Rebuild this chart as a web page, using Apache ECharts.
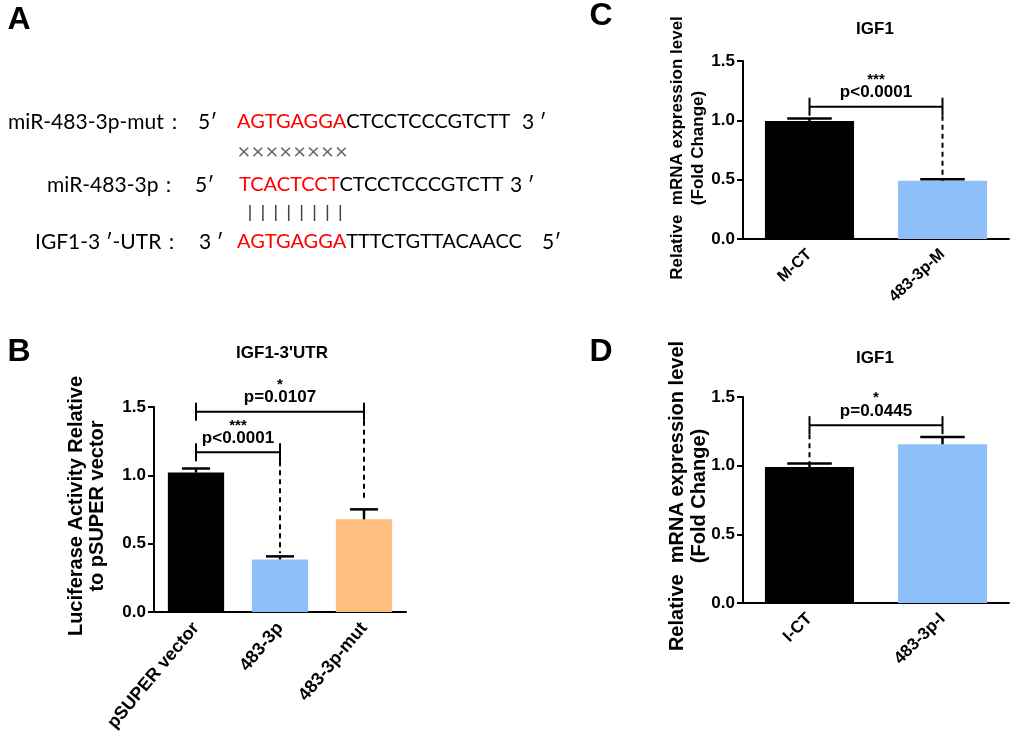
<!DOCTYPE html>
<html>
<head>
<meta charset="utf-8">
<script src="https://cdn.jsdelivr.net/npm/echarts@6/dist/echarts.min.js"></script>
<style>
  html, body { margin: 0; padding: 0; background: #fff; }
  #chart { width: 1020px; height: 746px; }
</style>
</head>
<body>
<div id="chart"></div>
<script>
// panel B
var bCats = ['pSUPER vector', '483-3p', '483-3p-mut']
var bMeans = [1.02, 0.385, 0.678]
var bErrs = [0.03, 0.022, 0.073]
var bColors = ['#000000', '#8fbff8', '#fdbf80']
var bPairs = [[0, 1], [0, 2]]
var bLevels = [1.168, 1.465]
var bFeet = [[null, 0.43], [null, 0.82]]
var bStars = ['***', '*']
var bPText = ['p<0.0001', 'p=0.0107']

// panel C
var cCats = ['M-CT', '483-3p-M']
var cMeans = [0.995, 0.49]
var cErrs = [0.02, 0.013]
var cColors = ['#000000', '#8fbff8']
var cPairs = [[0, 1]]
var cLevels = [1.115]
var cFeet = [[null, 0.515]]
var cStars = ['***']
var cPText = ['p<0.0001']

// panel D
var dCats = ['I-CT', '483-3p-I']
var dMeans = [0.99, 1.156]
var dErrs = [0.026, 0.053]
var dColors = ['#000000', '#8fbff8']
var dPairs = [[0, 1]]
var dLevels = [1.295]
var dFeet = [[1.02, null]]
var dStars = ['*']
var dPText = ['p=0.0445']

var FONT = '"Liberation Sans", Arial, sans-serif'
var SEQ_FONT = 'Lato, "Noto Sans", sans-serif'

var chart = echarts.init(document.getElementById('chart'))

function yAxis(idx) {
    return {
        gridIndex: idx,
        type: 'value',
        min: 0,
        max: 1.5,
        interval: 0.5,
        axisLine: { show: true, lineStyle: { color: '#000', width: 2 } },
        axisTick: { show: true, length: 6, lineStyle: { color: '#000', width: 2 } },
        axisLabel: {
            formatter: function (v) { return v.toFixed(1) },
            color: '#000', fontWeight: 'bold', fontSize: 17, fontFamily: FONT, margin: 8
        },
        splitLine: { show: false }
    }
}

function xAxis(idx, cats, rot, size) {
    return {
        gridIndex: idx,
        type: 'category',
        data: cats,
        axisLine: { lineStyle: { color: '#000', width: 2 } },
        axisTick: { alignWithLabel: true, length: 7, lineStyle: { color: '#000', width: 2 } },
        axisLabel: {
            interval: 0, rotate: rot, color: '#000', fontWeight: 'bold',
            fontSize: size, fontFamily: FONT, margin: 13
        }
    }
}

function barSeries(idx, means, colors) {
    return {
        type: 'bar',
        xAxisIndex: idx,
        yAxisIndex: idx,
        barWidth: '67%',
        data: means.map(function (v, i) {
            return { value: v, itemStyle: { color: colors[i] } }
        })
    }
}

function errSeries(idx, means, errs) {
    return {
        type: 'custom',
        xAxisIndex: idx,
        yAxisIndex: idx,
        z: 3,
        encode: { x: 0, y: 1 },
        data: means.map(function (m, i) { return [i, m, errs[i]] }),
        renderItem: function (params, api) {
            var i = api.value(0), m = api.value(1), e = api.value(2)
            var base = api.coord([i, m])
            var top = api.coord([i, m + e])
            var cap = api.size([1, 0])[0] * 0.67 / 4
            var st = { stroke: '#000', lineWidth: 2.5 }
            return {
                type: 'group',
                children: [
                    { type: 'line', shape: { x1: base[0], y1: base[1], x2: top[0], y2: top[1] }, style: st },
                    { type: 'line', shape: { x1: top[0] - cap, y1: top[1], x2: top[0] + cap, y2: top[1] }, style: st }
                ]
            }
        }
    }
}

function bracketSeries(idx, pairs, levels, feet, stars, ptext) {
    return {
        type: 'custom',
        xAxisIndex: idx,
        yAxisIndex: idx,
        z: 4,
        encode: { x: [0, 1], y: 2 },
        data: levels.map(function (l, i) { return [pairs[i][0], pairs[i][1], l] }),
        renderItem: function (params, api) {
            var k = params.dataIndex
            var a = api.coord([api.value(0), api.value(2)])
            var b = api.coord([api.value(1), api.value(2)])
            var t = 9
            var st = { stroke: '#000', lineWidth: 2 }
            var dash = { stroke: '#000', lineWidth: 2, lineDash: [5, 4] }
            var kids = [
                { type: 'line', shape: { x1: a[0], y1: a[1], x2: b[0], y2: b[1] }, style: st },
                { type: 'line', shape: { x1: a[0], y1: a[1] - t, x2: a[0], y2: a[1] + t }, style: st },
                { type: 'line', shape: { x1: b[0], y1: b[1] - t, x2: b[0], y2: b[1] + t }, style: st }
            ]
            var ends = [a, b]
            feet[k].forEach(function (f, j) {
                if (f === null) return
                var p = ends[j]
                var y2 = api.coord([j === 0 ? api.value(0) : api.value(1), f])[1]
                kids.push({ type: 'line', shape: { x1: p[0], y1: p[1] + t, x2: p[0], y2: y2 }, style: dash })
            })
            var cx = (a[0] + b[0]) / 2
            kids.push({
                type: 'text', x: cx, y: a[1] - 14,
                style: { text: ptext[k], font: 'bold 17px ' + FONT, fill: '#000', align: 'center', verticalAlign: 'middle', textAlign: 'center', textVerticalAlign: 'middle' }
            })
            kids.push({
                type: 'text', x: cx, y: a[1] - 27,
                style: { text: stars[k], font: 'bold 15px ' + FONT, fill: '#000', align: 'center', verticalAlign: 'middle', textAlign: 'center', textVerticalAlign: 'middle' }
            })
            return { type: 'group', children: kids }
        }
    }
}

function txt(x, y, text, font, opts) {
    opts = opts || {}
    return {
        type: 'text', x: x, y: y, rotation: opts.rot || 0,
        style: {
            text: text, font: font, fill: opts.fill || '#000',
            align: opts.align || 'center', verticalAlign: 'middle',
            textAlign: opts.align || 'center', textVerticalAlign: 'middle',
            rich: opts.rich
        }
    }
}

var seqFont = '20px ' + SEQ_FONT
var labFont = '21px ' + SEQ_FONT
var redRich = { r: { fill: '#ff0000', color: '#ff0000', font: seqFont } }
var graphics = [
    txt(19, 20, 'A', 'bold 32px ' + FONT),
    txt(19, 352, 'B', 'bold 32px ' + FONT),
    txt(601, 16, 'C', 'bold 32px ' + FONT),
    txt(601, 352, 'D', 'bold 32px ' + FONT),

    txt(8, 122, 'miR-483-3p-mut：', labFont, { align: 'left' }),
    txt(198, 122, '5′', labFont, { align: 'left' }),
    txt(237, 122, '{r|AGTGAGGA}CTCCTCCCGTCTT', seqFont, { align: 'left', rich: redRich }),
    txt(522, 122, '3 ′', labFont, { align: 'left' }),

    txt(47, 185, 'miR-483-3p：', labFont, { align: 'left' }),
    txt(195, 185, '5′', labFont, { align: 'left' }),
    txt(239, 185, '{r|TCACTCCT}CTCCTCCCGTCTT', seqFont, { align: 'left', rich: redRich }),
    txt(510, 185, '3 ′', labFont, { align: 'left' }),

    txt(35, 242, 'IGF1-3 ′-UTR：', labFont, { align: 'left' }),
    txt(199, 242, '3 ′', labFont, { align: 'left' }),
    txt(237, 242, '{r|AGTGAGGA}TTTCTGTTACAACC', seqFont, { align: 'left', rich: redRich }),
    txt(542, 242, '5′', labFont, { align: 'left' }),

    txt(282, 353, "IGF1-3'UTR", 'bold 17px ' + FONT),
    txt(875, 29, 'IGF1', 'bold 17px ' + FONT),
    txt(875, 358, 'IGF1', 'bold 17px ' + FONT),

    txt(76, 506, 'Luciferase Activity Relative', 'bold 20px ' + FONT, { rot: Math.PI / 2 }),
    txt(97, 506, 'to pSUPER vector', 'bold 20px ' + FONT, { rot: Math.PI / 2 }),
    txt(677, 148, 'Relative  mRNA expression level', 'bold 17px ' + FONT, { rot: Math.PI / 2 }),
    txt(698, 148, '(Fold Change)', 'bold 17px ' + FONT, { rot: Math.PI / 2 }),
    txt(677, 496, 'Relative  mRNA expression level', 'bold 20px ' + FONT, { rot: Math.PI / 2 }),
    txt(699, 496, '(Fold Change)', 'bold 20px ' + FONT, { rot: Math.PI / 2 })
]

// mismatch crosses and pairing strokes
for (var i = 0; i < 8; i++) {
    graphics.push(txt(244 + i * 13.9, 152, '×', '22px ' + SEQ_FONT, { fill: '#666' }))
    graphics.push({
        type: 'line',
        shape: { x1: 250 + i * 12.9, y1: 205, x2: 250 + i * 12.9, y2: 221 },
        style: { stroke: '#444', lineWidth: 1.5 }
    })
}

var option = {
    animation: false,
    backgroundColor: '#fff',
    grid: [
        { left: 154, top: 407, width: 252, height: 205 },
        { left: 743, top: 61, width: 266, height: 178 },
        { left: 743, top: 397, width: 266, height: 206 }
    ],
    xAxis: [
        xAxis(0, bCats, 50, 18),
        xAxis(1, cCats, 43, 16),
        xAxis(2, dCats, 45, 17)
    ],
    yAxis: [yAxis(0), yAxis(1), yAxis(2)],
    series: [
        barSeries(0, bMeans, bColors),
        errSeries(0, bMeans, bErrs),
        bracketSeries(0, bPairs, bLevels, bFeet, bStars, bPText),
        barSeries(1, cMeans, cColors),
        errSeries(1, cMeans, cErrs),
        bracketSeries(1, cPairs, cLevels, cFeet, cStars, cPText),
        barSeries(2, dMeans, dColors),
        errSeries(2, dMeans, dErrs),
        bracketSeries(2, dPairs, dLevels, dFeet, dStars, dPText)
    ],
    graphic: graphics
}

chart.setOption(option)
</script>
</body>
</html>
